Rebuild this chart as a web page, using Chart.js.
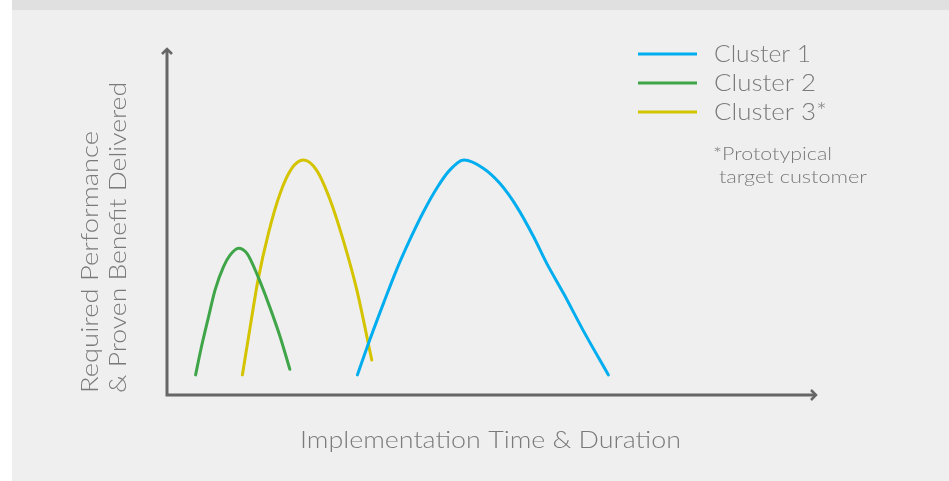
<!DOCTYPE html>
<html>
<head>
<meta charset="utf-8">
<script src="https://cdn.jsdelivr.net/npm/chart.js@4/dist/chart.umd.min.js"></script>
<style>
  html, body { margin: 0; padding: 0; background: #fff; }
  #wrap { width: 949px; height: 481px; }
</style>
</head>
<body>
<div id="wrap"><canvas id="clusters" width="949" height="481"></canvas></div>
<script>
// values, axes run 0..100 in both directions
const seriesNames = ['Cluster 1', 'Cluster 2', 'Cluster 3*'];
const cluster1X = [29.3, 31.2, 33.3, 35.3, 37.4, 39.4, 41.5, 43.5, 45.7, 48.7, 51.2, 53.8, 56.4, 58.4, 61.0, 64.0, 67.9];
const cluster1Y = [5.8, 15.9, 26.4, 36.0, 44.9, 52.6, 59.6, 64.8, 67.7, 65.3, 61.0, 54.3, 45.6, 38.0, 29.3, 18.7, 5.8];
const cluster2X = [4.4, 5.3, 6.4, 7.4, 8.7, 9.7, 11.0, 12.3, 14.0, 15.8, 17.4, 18.9];
const cluster2Y = [5.8, 13.9, 22.6, 30.3, 37.0, 40.3, 42.3, 40.8, 34.1, 25.4, 16.8, 7.4];
const cluster3X = [11.6, 12.8, 14.0, 15.6, 17.4, 19.2, 21.0, 23.0, 25.1, 27.1, 29.2, 31.5];
const cluster3Y = [5.8, 19.7, 33.1, 46.6, 58.1, 65.3, 67.7, 64.8, 56.2, 44.7, 30.3, 10.1];
const xTitle = 'Implementation Time & Duration';
const yTitle = ['Required Performance', '& Proven Benefit Delivered'];
const noteLines = ['*Prototypical', ' target customer'];

const colors = ['#00aeef', '#3fa548', '#d4c400'];
const textGray = '#7a7a7a';
const axisGray = '#666666';
const FONT = 'Lato, "Open Sans", sans-serif';

function toPoints(xs, ys) {
	return xs.map((x, i) => ({ x: x, y: ys[i] }));
}

const pointSets = [
	toPoints(cluster1X, cluster1Y),
	toPoints(cluster2X, cluster2Y),
	toPoints(cluster3X, cluster3Y),
];

// the source font runs wider than Lato, so stretch text to the measured width
function wideText(ctx, text, x, y, width) {
	const w = ctx.measureText(text).width;
	ctx.save();
	ctx.translate(x, y);
	ctx.scale(width / w, 1);
	ctx.textAlign = 'left';
	ctx.fillText(text, 0, 0);
	ctx.restore();
}

const backdrop = {
	id: 'backdrop',
	beforeDraw(chart) {
		const { ctx, width, height } = chart;
		ctx.save();
		ctx.fillStyle = '#ffffff';
		ctx.fillRect(0, 0, width, height);
		ctx.fillStyle = '#efefef';
		ctx.fillRect(12, 10, width - 12, height - 10);
		ctx.fillStyle = '#e0e0e0';
		ctx.fillRect(12, 0, width - 12, 10);
		ctx.restore();
	},
};

const decorations = {
	id: 'decorations',
	afterDraw(chart) {
		const { ctx, chartArea } = chart;
		const { left, right, top, bottom } = chartArea;
		ctx.save();

		// axes with arrow heads
		ctx.strokeStyle = axisGray;
		ctx.lineWidth = 3;
		ctx.lineCap = 'butt';
		ctx.beginPath();
		ctx.moveTo(left, top + 2);
		ctx.lineTo(left, bottom);
		ctx.lineTo(right - 2, bottom);
		ctx.stroke();
		ctx.lineWidth = 2.5;
		ctx.lineJoin = 'miter';
		ctx.beginPath();
		ctx.moveTo(left - 5, top + 6);
		ctx.lineTo(left, top + 1);
		ctx.lineTo(left + 5, top + 6);
		ctx.stroke();
		ctx.beginPath();
		ctx.moveTo(right - 6, bottom - 5);
		ctx.lineTo(right - 1, bottom);
		ctx.lineTo(right - 6, bottom + 5);
		ctx.stroke();

		// axis titles
		ctx.fillStyle = textGray;
		ctx.textBaseline = 'middle';
		ctx.font = '300 24px ' + FONT;
		wideText(ctx, xTitle, 300, bottom + 45, 381);

		ctx.save();
		ctx.translate(0, bottom - 2);
		ctx.rotate(-Math.PI / 2);
		wideText(ctx, yTitle[0], 0, 90, 262);
		wideText(ctx, yTitle[1], 0, 118, 311);
		ctx.restore();

		// legend
		ctx.font = '300 24px ' + FONT;
		const legendWidths = [97, 102, 113];
		seriesNames.forEach((name, i) => {
			const y = 54 + i * 29;
			ctx.strokeStyle = colors[i];
			ctx.lineWidth = 3;
			ctx.beginPath();
			ctx.moveTo(638, y);
			ctx.lineTo(697, y);
			ctx.stroke();
			ctx.fillStyle = textGray;
			wideText(ctx, name, 714, y, legendWidths[i]);
		});

		ctx.font = '300 18px ' + FONT;
		wideText(ctx, noteLines[0], 713, 154, 119);
		wideText(ctx, noteLines[1], 713, 177, 154);

		ctx.restore();
	},
};

new Chart(document.getElementById('clusters').getContext('2d'), {
	type: 'scatter',
	data: {
		datasets: seriesNames.map((name, i) => ({
			label: name,
			data: pointSets[i],
			showLine: true,
			borderColor: colors[i],
			backgroundColor: colors[i],
			borderWidth: 3,
			pointRadius: 0,
			cubicInterpolationMode: 'monotone',
			borderCapStyle: 'round',
		})),
	},
	options: {
		responsive: false,
		animation: false,
		devicePixelRatio: 1,
		layout: { padding: { left: 167, top: 48, right: 132, bottom: 86 } },
		plugins: {
			legend: { display: false },
			tooltip: { enabled: false },
		},
		scales: {
			x: { type: 'linear', min: 0, max: 100, display: false },
			y: { type: 'linear', min: 0, max: 100, display: false },
		},
	},
	plugins: [backdrop, decorations],
});
</script>
</body>
</html>
